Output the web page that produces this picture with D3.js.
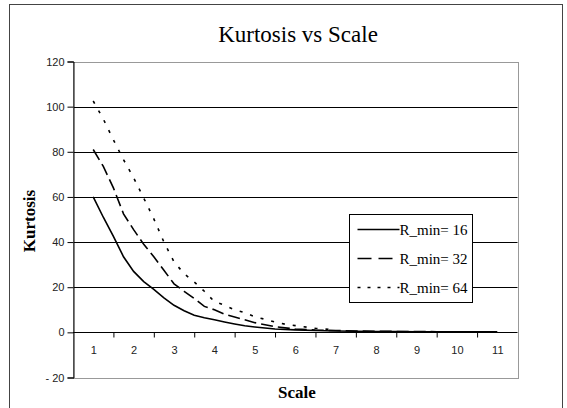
<!DOCTYPE html>
<html>
<head>
<meta charset="utf-8">
<script src="https://cdn.jsdelivr.net/npm/d3@7"></script>
<style>
  body { margin: 0; background: #fff; }
  svg { display: block; }
  .serif { font-family: "Liberation Serif", "Times New Roman", serif; }
  .sans { font-family: "Liberation Sans", Arial, sans-serif; }
</style>
</head>
<body>
<svg id="svg" width="567" height="408"></svg>
<script>
// scale positions (category 1..11) and kurtosis values
var scaleLabels = ["1", "2", "3", "4", "5", "6", "7", "8", "9", "10", "11"];
var yTicks = [-20, 0, 20, 40, 60, 80, 100, 120];

var x16 = [1, 1.25, 1.5, 1.75, 2, 2.25, 2.5, 2.75, 3, 3.25, 3.5, 3.75, 4, 4.25, 4.5, 4.75, 5, 5.5, 6, 6.5, 7, 7.5, 8, 8.5, 9, 9.5, 10, 10.5, 11];
var k16 = [60, 51, 42.5, 33.5, 27, 22.5, 19, 15.3, 12, 9.6, 7.6, 6.5, 5.6, 4.6, 3.7, 2.9, 2.4, 1.5, 1.1, 0.8, 0.6, 0.5, 0.4, 0.4, 0.3, 0.3, 0.2, 0.2, 0.2];

var x32 = [1, 1.25, 1.5, 1.75, 2, 2.25, 2.5, 2.75, 3, 3.25, 3.5, 3.75, 4, 4.25, 4.5, 4.75, 5, 5.5, 6, 6.5, 7, 7.5, 8, 8.5, 9, 9.5];
var k32 = [81, 73.5, 64, 52.5, 45.5, 39, 33.5, 27.5, 21.5, 18.2, 15, 11.5, 10, 8, 6.8, 5.6, 4.3, 2.5, 1.5, 1, 0.8, 0.6, 0.5, 0.4, 0.4, 0.3];

var x64 = [1, 1.25, 1.5, 1.75, 2, 2.25, 2.5, 2.75, 3, 3.25, 3.5, 3.75, 4, 4.25, 4.5, 4.75, 5, 5.25, 5.5, 5.75, 6, 6.5, 7];
var k64 = [102.5, 94.5, 85.3, 76.5, 68.5, 59.5, 50.3, 40, 31.2, 26, 22.3, 18.2, 13.6, 12, 10, 8.7, 6.9, 5.8, 4.6, 3.6, 3, 1.8, 1.1];

var seriesNames = ["R_min= 16", "R_min= 32", "R_min= 64"];

var svg = d3.select("#svg");

// outer chart frame
svg.append("rect")
    .attr("x", 9.5).attr("y", 4.5)
    .attr("width", 553).attr("height", 420)
    .attr("fill", "none")
    .attr("stroke", "#444");

var x = d3.scaleLinear().domain([0.5, 11.5]).range([73, 517.5]);
var y = d3.scaleLinear().domain([-20, 120]).range([377.5, 61.5]);

//////// GRID ////////
svg.selectAll(".grid").data([20, 40, 60, 80, 100]).enter()
    .append("line")
    .attr("x1", x(0.5)).attr("x2", x(11.5))
    .attr("y1", function(d) { return Math.round(y(d)) + 0.5; })
    .attr("y2", function(d) { return Math.round(y(d)) + 0.5; })
    .attr("stroke", "#000");

// plot area border (grey)
svg.append("rect")
    .attr("x", Math.round(x(0.5)) + 0.5).attr("y", Math.round(y(120)) + 0.5)
    .attr("width", Math.round(x(11.5)) - Math.round(x(0.5)))
    .attr("height", Math.round(y(-20)) - Math.round(y(120)))
    .attr("fill", "none")
    .attr("stroke", "#999");

//////// AXES ////////
var yAxis = d3.axisLeft(y).tickValues(yTicks).tickSize(6).tickPadding(3)
    .tickFormat(function(d) { return d < 0 ? "- " + (-d) : d; });
var gy = svg.append("g").attr("transform", "translate(" + (Math.round(x(0.5)) + 0.5) + ",0)").call(yAxis);

var zeroY = Math.round(y(0)) + 0.5;
var xTicks = d3.axisBottom(x).tickValues(d3.range(1.5, 11, 1)).tickSize(5).tickFormat("");
var gx = svg.append("g").attr("transform", "translate(0," + zeroY + ")").call(xTicks);
gx.select(".domain").attr("d", "M" + x(0.5) + ",0H" + x(11.5));

var xLabels = d3.axisBottom(x).tickValues(d3.range(1, 12)).tickSize(0).tickPadding(14)
    .tickFormat(function(d, i) { return scaleLabels[i]; });
var gl = svg.append("g").attr("transform", "translate(0," + zeroY + ")").call(xLabels);
gl.select(".domain").remove();

[gy, gx, gl].forEach(function(g) {
    g.attr("font-family", null).attr("font-size", null);
    g.selectAll("text")
        .attr("class", "sans")
        .style("font-size", "11px")
        .attr("fill", "#222");
    g.selectAll("line").attr("stroke", "#000");
    g.select(".domain").attr("stroke", "#000");
});

//////// LINES ////////
var series = [
    { xs: x16, ks: k16, dash: null, key: null },
    { xs: x32, ks: k32, dash: "12,5", key: "14,7" },
    { xs: x64, ks: k64, dash: "3,8", key: "3,7" }
];

var line = d3.line()
    .x(function(d) { return x(d[0]); })
    .y(function(d) { return y(d[1]); });

series.forEach(function(s) {
    svg.append("path")
        .datum(d3.zip(s.xs, s.ks))
        .attr("d", line)
        .attr("fill", "none")
        .attr("stroke", "#000")
        .attr("stroke-width", 1.6)
        .attr("stroke-dasharray", s.dash);
});

//////// LEGEND ////////
var lg = svg.append("g").attr("transform", "translate(349.5,214.5)");
lg.append("rect")
    .attr("width", 123).attr("height", 88)
    .attr("fill", "#fff").attr("stroke", "#000");
series.forEach(function(s, i) {
    var ly = 15 + i * 29;
    lg.append("line")
        .attr("x1", 8).attr("x2", 50)
        .attr("y1", ly).attr("y2", ly)
        .attr("stroke", "#000").attr("stroke-width", 1.6)
        .attr("stroke-dasharray", s.key);
    lg.append("text")
        .attr("class", "serif")
        .attr("x", 50).attr("y", ly + 5)
        .style("font-size", "15px")
        .text(seriesNames[i]);
});

//////// TITLES ////////
svg.append("text")
    .attr("class", "serif")
    .attr("x", 298).attr("y", 42)
    .attr("text-anchor", "middle")
    .style("font-size", "23px")
    .text("Kurtosis vs Scale");

svg.append("text")
    .attr("class", "serif")
    .attr("x", 297).attr("y", 398)
    .attr("text-anchor", "middle")
    .style("font-size", "17px")
    .style("font-weight", "bold")
    .text("Scale");

svg.append("text")
    .attr("class", "serif")
    .attr("transform", "translate(35,221)rotate(-90)")
    .attr("text-anchor", "middle")
    .style("font-size", "17px")
    .style("font-weight", "bold")
    .text("Kurtosis");
</script>
</body>
</html>
